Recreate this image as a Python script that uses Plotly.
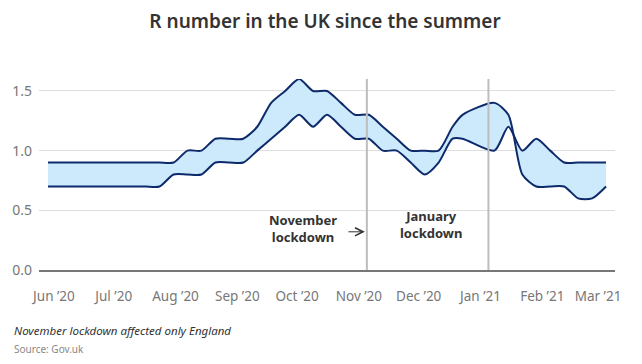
import plotly.graph_objects as go

dates = ["2020-05-29", "2020-06-05", "2020-06-12", "2020-06-19", "2020-06-26",
         "2020-07-03", "2020-07-10", "2020-07-17", "2020-07-24", "2020-07-31",
         "2020-08-07", "2020-08-14", "2020-08-21", "2020-08-28", "2020-09-04",
         "2020-09-11", "2020-09-18", "2020-09-25", "2020-10-02", "2020-10-09",
         "2020-10-16", "2020-10-23", "2020-10-30", "2020-11-06", "2020-11-13",
         "2020-11-20", "2020-11-27", "2020-12-04", "2020-12-11", "2020-12-18",
         "2020-12-23", "2021-01-08", "2021-01-15", "2021-01-22", "2021-01-29",
         "2021-02-05", "2021-02-12", "2021-02-19", "2021-02-26", "2021-03-05"]

# line drawn as the lower bound through most of the period
r_line_b = [0.7, 0.7, 0.7, 0.7, 0.7, 0.7, 0.7, 0.7, 0.7, 0.8,
            0.8, 0.8, 0.9, 0.9, 0.9, 1.0, 1.1, 1.2, 1.3, 1.2,
            1.3, 1.2, 1.1, 1.1, 1.0, 1.0, 0.9, 0.8, 0.9, 1.1,
            1.1, 1.0, 1.2, 1.0, 1.1, 1.0, 0.9, 0.9, 0.9, 0.9]
# line drawn as the upper bound through most of the period
r_line_a = [0.9, 0.9, 0.9, 0.9, 0.9, 0.9, 0.9, 0.9, 0.9, 0.9,
            1.0, 1.0, 1.1, 1.1, 1.1, 1.2, 1.4, 1.5, 1.6, 1.5,
            1.5, 1.4, 1.3, 1.3, 1.2, 1.1, 1.0, 1.0, 1.0, 1.2,
            1.3, 1.4, 1.3, 0.8, 0.7, 0.7, 0.7, 0.6, 0.6, 0.7]

tick_dates = ["2020-06-01", "2020-07-01", "2020-08-01", "2020-09-01", "2020-10-01",
              "2020-11-01", "2020-12-01", "2021-01-01", "2021-02-01", "2021-03-01"]
tick_labels = ["Jun ’20", "Jul ’20", "Aug ’20", "Sep ’20", "Oct ’20",
               "Nov ’20", "Dec ’20", "Jan ’21", "Feb ’21", "Mar ’21"]

lockdown_dates = ["2020-11-05", "2021-01-05"]

LINE = "#0d2a6b"
FILL = "#cde9fc"
FONT = "Noto Sans"
SMOOTH = 0.7

fig = go.Figure()
fig.add_trace(go.Scatter(x=dates, y=r_line_b, mode="lines",
                         line=dict(color=LINE, width=2, shape="spline", smoothing=SMOOTH),
                         hoverinfo="skip", showlegend=False))
fig.add_trace(go.Scatter(x=dates, y=r_line_a, mode="lines", fill="tonexty", fillcolor=FILL,
                         line=dict(color=LINE, width=2, shape="spline", smoothing=SMOOTH),
                         hoverinfo="skip", showlegend=False))

for d in lockdown_dates:
    fig.add_shape(type="line", xref="x", yref="paper", x0=d, x1=d, y0=0, y1=1,
                  line=dict(color="#bdbdbd", width=2), layer="above")

# page body adds an 8px offset, so the figure is 8px smaller on each axis
fig.update_layout(
    width=634, height=356,
    margin=dict(l=31, r=27, t=71, b=94, autoexpand=False),
    paper_bgcolor="white", plot_bgcolor="white",
    font=dict(family=FONT, color="#777777", size=13),
    title=dict(text="R number in the UK since the summer", x=0.5, xanchor="center",
               y=1 - 13 / 356, yanchor="middle",
               font=dict(family=FONT, size=19, color="#333333", weight=600)),
    xaxis=dict(type="date", range=["2020-05-24 12:00", "2021-03-09 12:00"],
               tickvals=tick_dates, ticktext=tick_labels, showgrid=False,
               showline=True, linecolor="#777777", linewidth=1.5,
               ticks="", ticklabelstandoff=13,
               tickfont=dict(size=13.5, color="#777777"), zeroline=False,
               automargin=False),
    yaxis=dict(range=[0, 1.6], tickvals=[0, 0.5, 1.0, 1.5], tickformat=".1f",
               showgrid=True, gridcolor="#dedede", gridwidth=1, zeroline=False,
               ticks="", ticklabelstandoff=6, tickfont=dict(size=14, color="#777777"),
               showline=False, automargin=False),
)

fig.add_annotation(x="2020-10-04", y=0.35, xref="x", yref="y",
                   text="<b>November<br>lockdown</b>", showarrow=False,
                   font=dict(family=FONT, size=13, color="#333333"), align="center")
fig.add_annotation(x="2020-11-04", y=0.32, ax="2020-10-26", ay=0.32,
                   xref="x", yref="y", axref="x", ayref="y", text="",
                   showarrow=True, arrowhead=5, arrowsize=1.6, arrowwidth=1,
                   arrowcolor="#333333", standoff=0)
fig.add_annotation(x="2020-12-07", y=0.38, xref="x", yref="y",
                   text="<b>January<br>lockdown</b>", showarrow=False,
                   font=dict(family=FONT, size=13, color="#333333"), align="center")

fig.add_annotation(x=-27 / 576, y=-(330 - 270) / 191, xref="paper", yref="paper",
                   xanchor="left", yanchor="middle", showarrow=False,
                   text="<i>November lockdown affected only England</i>",
                   font=dict(family=FONT, size=11.5, color="#333333"))
fig.add_annotation(x=-27 / 576, y=-(349 - 270) / 191, xref="paper", yref="paper",
                   xanchor="left", yanchor="middle", showarrow=False,
                   text="Source: Gov.uk",
                   font=dict(family=FONT, size=10, color="#888888"))

fig.write_html("out.html")
